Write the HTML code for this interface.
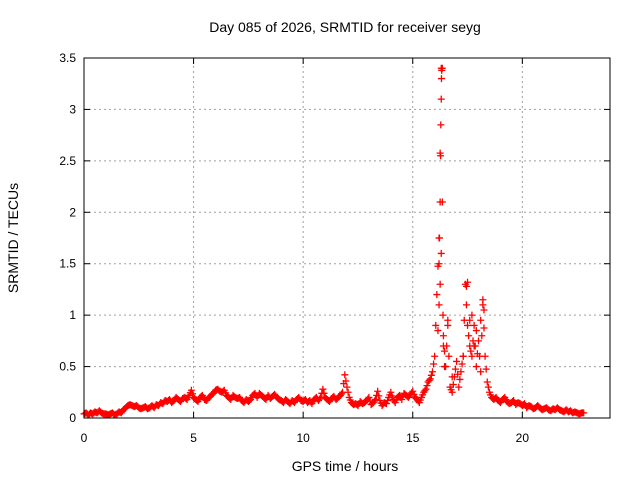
<!DOCTYPE html>
<html><head><meta charset="utf-8"><style>
body{margin:0;background:#fff;}
svg text{font-family:"Liberation Sans",sans-serif;font-size:12px;fill:#000;}
</style></head><body>
<svg id="chart" width="640" height="480" xmlns="http://www.w3.org/2000/svg">
<rect width="640" height="480" fill="#fff"/>
<g id="grid"></g>
<g id="marks"></g>
<rect x="84" y="58" width="526" height="360" fill="none" stroke="#000" stroke-width="1"/>
<g id="ticks"></g>
<text x="345" y="32" text-anchor="middle" style="font-size:14px">Day 085 of 2026, SRMTID for receiver seyg</text>
<text x="345" y="471" text-anchor="middle" style="font-size:14px">GPS time / hours</text>
<text transform="translate(18,238) rotate(-90)" text-anchor="middle" style="font-size:14px">SRMTID / TECUs</text>
</svg>
<script>
const xTicks=[0,5,10,15,20];
const yTicks=[0,0.5,1,1.5,2,2.5,3,3.5];
const yTickLabels=["0","0.5","1","1.5","2","2.5","3","3.5"];
const baseStart=0, baseStep=0.1;
const srmtid=[0.04,0.05,0.03,0.05,0.04,0.06,0.05,0.07,0.05,0.04,
0.04,0.03,0.04,0.05,0.03,0.04,0.06,0.05,0.08,0.1,
0.12,0.13,0.12,0.11,0.12,0.1,0.09,0.1,0.11,0.09,
0.1,0.12,0.1,0.13,0.12,0.15,0.14,0.17,0.16,0.18,
0.15,0.17,0.2,0.18,0.16,0.19,0.2,0.18,0.22,0.27,
0.2,0.18,0.16,0.2,0.22,0.18,0.17,0.2,0.22,0.24,
0.27,0.28,0.26,0.25,0.27,0.22,0.2,0.18,0.22,0.2,
0.19,0.2,0.17,0.15,0.18,0.16,0.18,0.22,0.24,0.2,
0.24,0.22,0.2,0.18,0.22,0.19,0.21,0.23,0.2,0.18,
0.17,0.15,0.18,0.16,0.14,0.17,0.15,0.18,0.2,0.17,
0.16,0.18,0.15,0.17,0.14,0.18,0.2,0.17,0.2,0.28,
0.2,0.18,0.16,0.19,0.21,0.18,0.2,0.22,0.25,0.42,
0.3,0.2,0.15,0.13,0.14,0.12,0.16,0.14,0.15,0.17,
0.2,0.13,0.15,0.18,0.26,0.17,0.12,0.15,0.14,0.2,
0.25,0.18,0.15,0.2,0.22,0.18,0.24,0.22,0.2,0.23,
0.26,0.2,0.18,0.15,0.2,0.25,0.28,0.35,0.38,0.45,
0.6,1.2,1.75,3.4,0.8,0.5,0.9,0.3,0.25,0.4,
0.55,0.3,0.45,0.6,1.3,0.9,0.7,0.6,0.9,0.5,
0.75,0.45,1.15,0.6,0.35,0.25,0.2,0.18,0.2,0.17,
0.15,0.18,0.2,0.16,0.14,0.15,0.17,0.13,0.15,0.14,
0.12,0.14,0.1,0.12,0.11,0.09,0.1,0.12,0.1,0.08,
0.09,0.1,0.08,0.07,0.09,0.08,0.1,0.08,0.07,0.06,
0.08,0.06,0.07,0.05,0.06,0.05,0.04,0.05,0.05];
const spikeTimes=[16.2,16.22,16.25,16.27,16.28,16.3,16.31,16.32,16.35,16.25,16.2,16.15,16.3,16.38,16.4,16.6,17.45,17.5,17.7,17.9,18.2,18.25,17.3,17.8,16.45,16.8,17.6,18.1];
const spikeVals=[1.5,1.75,2.1,2.55,2.85,3.1,3.3,3.38,3.4,1.3,1.1,0.85,1.6,1.0,0.7,0.95,1.28,1.32,1.0,0.85,1.1,1.05,0.6,0.7,0.5,0.4,0.95,0.95];
const X0=84,X1=610,Y0=418,Y1=58,XMAX=24,YMAX=3.5;
const xs=v=>X0+(X1-X0)*v/XMAX;
const ys=v=>Y0-(Y0-Y1)*v/YMAX;
const NS="http://www.w3.org/2000/svg";
const grid=document.getElementById('grid'),ticks=document.getElementById('ticks'),marks=document.getElementById('marks');
function mk(t,a,p){const e=document.createElementNS(NS,t);for(const k in a)e.setAttribute(k,a[k]);p.appendChild(e);return e;}
xTicks.forEach(t=>{const x=xs(t);
 if(t>0){const g=mk('line',{x1:x,x2:x,y1:Y0,y2:Y1,stroke:'#a0a0a0','stroke-dasharray':'2,3'},grid);
 }
 const l=mk('line',{x1:x,x2:x,y1:Y0,y2:Y0-6,stroke:'#000'},ticks);
 const l2=mk('line',{x1:x,x2:x,y1:Y1,y2:Y1+6,stroke:'#000'},ticks);
 const tx=mk('text',{x:x,y:442,'text-anchor':'middle'},ticks);tx.textContent=String(t);
 });
yTicks.forEach((t,i)=>{const y=ys(t);
 if(t>0&&t<YMAX){const g=mk('line',{x1:X0,x2:X1,y1:y,y2:y,stroke:'#a0a0a0','stroke-dasharray':'2,3'},grid);
 }
 const l=mk('line',{x1:X0,x2:X0+6,y1:y,y2:y,stroke:'#000'},ticks);
 const l2=mk('line',{x1:X1,x2:X1-6,y1:y,y2:y,stroke:'#000'},ticks);
 const tx=mk('text',{x:76,y:y+4,'text-anchor':'end'},ticks);tx.textContent=yTickLabels[i];
 });
function plus(t,v){const x=xs(t),y=ys(v);
 const p=mk('path',{d:`M${x-3.5},${y}h7M${x},${y-3.5}v7`,stroke:'#f00','stroke-width':1.3},marks);
 }
srmtid.forEach((v,i)=>{const t=baseStart+i*baseStep;plus(t,v);if(i<srmtid.length-1){plus(t+baseStep/2,(v+srmtid[i+1])/2);}});
spikeTimes.forEach((t,i)=>plus(t,spikeVals[i]));
</script>
</body></html>
